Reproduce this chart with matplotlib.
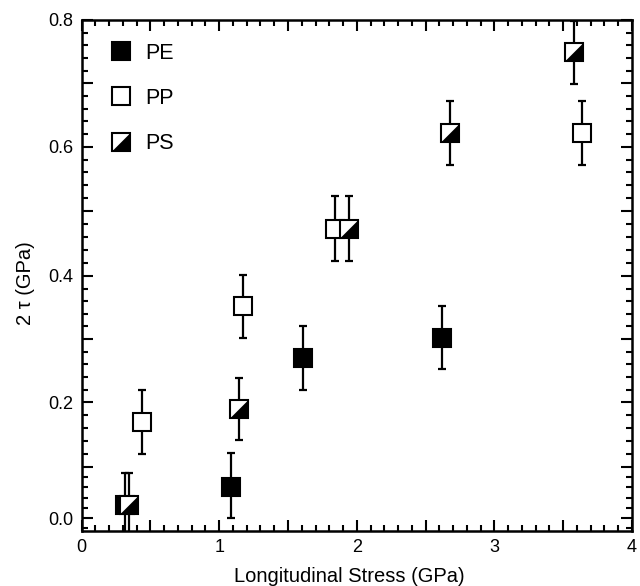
import matplotlib
matplotlib.use("Agg")
import numpy as np
import matplotlib.pyplot as plt
from matplotlib.ticker import MultipleLocator, FuncFormatter
from matplotlib.lines import Line2D
from matplotlib.legend_handler import HandlerTuple

plt.rcParams['font.family'] = ['Liberation Sans', 'DejaVu Sans']

# data (GPa)
pe_x = [0.316, 1.087, 1.61, 2.62]
pe_y = [0.026, 0.061, 0.270, 0.302]
pe_err = [0.062, 0.06, 0.05, 0.05]
pp_x = [0.44, 1.175, 1.845, 3.64]
pp_y = [0.169, 0.352, 0.473, 0.622]
pp_err = [0.05, 0.05, 0.05, 0.05]
ps_x = [0.345, 1.146, 1.94, 2.68, 3.58]
ps_y = [0.026, 0.190, 0.473, 0.622, 0.749]
ps_err = [0.062, 0.048, 0.05, 0.05, 0.05]

# the printed y axis is not quite linear (bottom decade squeezed);
# piecewise mapping through the tick marks as measured on the original
y_knots = [-0.025, 0.0, 0.1, 0.2, 0.4, 0.6, 0.8]
y_pos = [-531.0, -518.3, -466.7, -402.3, -276.0, -146.7, -20.0]


def _pw(v, xs, ys):
    v = np.asarray(v, dtype=float)
    out = np.interp(v, xs, ys)
    lo = v < xs[0]
    hi = v > xs[-1]
    out[lo] = ys[0] + (v[lo] - xs[0]) * (ys[1] - ys[0]) / (xs[1] - xs[0])
    out[hi] = ys[-1] + (v[hi] - xs[-1]) * (ys[-1] - ys[-2]) / (xs[-1] - xs[-2])
    return out


def y_fwd(v):
    return _pw(v, y_knots, y_pos)


def y_inv(p):
    return _pw(p, y_pos, y_knots)


ms = 12.5
mew = 1.5
# lower-right triangle used to half-fill the PS squares
tri = [(-1, -1), (1, -1), (1, 1), (-1, -1)]

fig = plt.figure(figsize=(6.4, 5.86), dpi=100)
ax = fig.add_axes([0.1275, 0.094, 0.860, 0.872])
ax.set_yscale('function', functions=(y_fwd, y_inv))

for xs, ys, es in [(pe_x, pe_y, pe_err), (pp_x, pp_y, pp_err), (ps_x, ps_y, ps_err)]:
    ax.errorbar(xs, ys, yerr=es, fmt='none', ecolor='black', elinewidth=1.6,
                capsize=3.2, capthick=1.6, zorder=2)

ax.plot(pe_x, pe_y, 's', ms=ms, mfc='black', mec='black', mew=mew, zorder=3)
ax.plot(pp_x, pp_y, 's', ms=ms, mfc='white', mec='black', mew=mew, zorder=4)
for x, y in zip(ps_x, ps_y):
    ax.plot([x], [y], 's', ms=ms, mfc='white', mec='black', mew=mew, zorder=5)
    ax.plot([x], [y], marker=tri, ms=ms, mfc='black', mec='black', mew=0.5,
            ls='none', zorder=5)

h_pe = Line2D([], [], marker='s', ls='none', ms=ms, mfc='black', mec='black', mew=mew)
h_pp = Line2D([], [], marker='s', ls='none', ms=ms, mfc='white', mec='black', mew=mew)
h_ps = (Line2D([], [], marker='s', ls='none', ms=ms, mfc='white', mec='black', mew=mew),
        Line2D([], [], marker=tri, ls='none', ms=ms, mfc='black', mec='black', mew=0.5))
ax.legend([h_pe, h_pp, h_ps], ['PE', 'PP', 'PS'], loc='upper left',
          handler_map={tuple: HandlerTuple(ndivide=1)},
          frameon=False, fontsize=15.5, handlelength=1.0, handletextpad=0.65,
          labelspacing=1.12, borderaxespad=0.0, bbox_to_anchor=(0.036, 0.972))

ax.set_xlim(0, 4.0)
ax.set_ylim(-0.025, 0.8)
ax.xaxis.set_major_locator(MultipleLocator(0.5))
ax.xaxis.set_minor_locator(MultipleLocator(0.1))
ax.xaxis.set_major_formatter(FuncFormatter(
    lambda v, p: '%d' % round(v) if abs(v - round(v)) < 1e-6 else ''))
ax.yaxis.set_major_locator(MultipleLocator(0.1))
ax.yaxis.set_minor_locator(MultipleLocator(0.02))
ax.yaxis.set_major_formatter(FuncFormatter(
    lambda v, p: '%.1f' % v if round(v * 10) % 2 == 0 else ''))

ax.tick_params(which='both', direction='in', top=True, right=True,
               labelsize=13, width=1.5)
ax.tick_params(which='major', length=8, pad=6)
ax.tick_params(which='minor', length=4)
for s in ax.spines.values():
    s.set_linewidth(1.8)

ax.set_xlabel('Longitudinal Stress (GPa)', fontsize=14.5)
ax.set_ylabel('2 τ (GPa)', fontsize=14.5)
ax.xaxis.set_label_coords(0.4855, -0.070)
ax.yaxis.set_label_coords(-0.085, 0.484)

fig.savefig('out.png', dpi=100)
